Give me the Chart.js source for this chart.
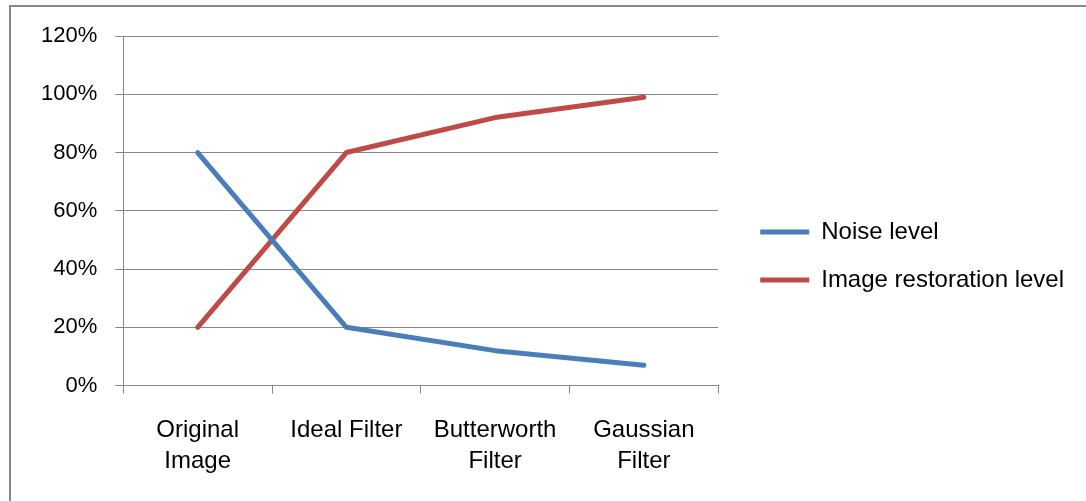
<!DOCTYPE html>
<html>
<head>
<meta charset="utf-8">
<script src="https://cdn.jsdelivr.net/npm/chart.js@4"></script>
<style>
  body { margin: 0; background: #fff; }
  #frame { position: absolute; left: 9px; top: 5px; width: 1100px; height: 600px;
           border-top: 2px solid #878787; border-left: 2px solid #878787; }
  #chart { position: absolute; left: 0; top: 0; }
</style>
</head>
<body>
<div id="frame"></div>
<canvas id="chart" width="1086" height="501"></canvas>
<script>
// chart data
const categories = [['Original', 'Image'], 'Ideal Filter', ['Butterworth', 'Filter'], ['Gaussian', 'Filter']];
const noiseLevel = [80, 20, 12, 7];
const restorationLevel = [20, 80, 92, 99];
const seriesNames = ['Noise level', 'Image restoration level'];

const gray = '#868686';

// nudge the legend a bit further from the plot
const legendShift = {
  id: 'legendShift',
  afterLayout(chart) {
    const lg = chart.legend;
    lg.left += 18;
    lg.right += 18;
    lg.top -= 11;
    lg.bottom -= 11;
  }
};

new Chart(document.getElementById('chart').getContext('2d'), {
  type: 'line',
  data: {
    labels: categories,
    datasets: [
      {
        label: seriesNames[0],
        data: noiseLevel,
        borderColor: '#4A7EBB',
        backgroundColor: '#4A7EBB',
        borderWidth: 5,
        borderCapStyle: 'round',
        borderJoinStyle: 'round'
      },
      {
        label: seriesNames[1],
        data: restorationLevel,
        borderColor: '#BE4B48',
        backgroundColor: '#BE4B48',
        borderWidth: 5,
        borderCapStyle: 'round',
        borderJoinStyle: 'round'
      }
    ]
  },
  options: {
    responsive: false,
    animation: false,
    layout: { padding: { left: 23, top: 36, right: 30, bottom: 3 } },
    elements: {
      line: { tension: 0 },
      point: { radius: 0, hoverRadius: 0 }
    },
    scales: {
      x: {
        offset: true,
        grid: { offset: true, drawOnChartArea: false, color: gray, tickLength: 8 },
        border: { color: gray },
        ticks: { color: '#000', padding: 21, maxRotation: 0, font: { family: 'Liberation Sans', size: 24, lineHeight: 1.3 } }
      },
      y: {
        min: 0,
        max: 120,
        grid: { color: gray, tickLength: 8 },
        border: { color: gray },
        ticks: {
          stepSize: 20,
          color: '#000',
          padding: 18,
          font: { family: 'Liberation Sans', size: 22 },
          callback: v => v + '%'
        }
      }
    },
    plugins: {
      legend: {
        position: 'right',
        maxWidth: 400,
        labels: {
          usePointStyle: true,
          pointStyle: 'line',
          pointStyleWidth: 49,
          padding: 24,
          color: '#000',
          font: { family: 'Liberation Sans', size: 24 }
        }
      },
      tooltip: { enabled: false }
    }
  },
  plugins: [legendShift]
});
</script>
</body>
</html>
